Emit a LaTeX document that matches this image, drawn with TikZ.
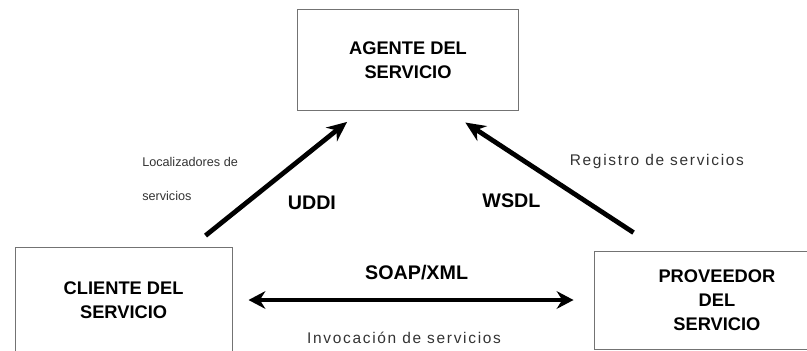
\documentclass[tikz,border=0pt]{standalone}
\usepackage{fontspec}
\setmainfont{Liberation Sans}
\usetikzlibrary{positioning, calc, arrows.meta}

\begin{document}
\begin{tikzpicture}[
		role/.style={draw=black!55, line width=0.6pt, align=center, font=\bfseries\fontsize{13}{17}\selectfont},
		wire/.style={line width=3.4pt, -{Stealth[length=5mm, width=4.4mm]}},
		proto/.style={font=\bfseries\fontsize{14}{16}\selectfont, inner sep=0pt},
		note/.style={font=\fontsize{9}{24}\selectfont, text=black!80, inner sep=0pt, align=left},
		wide/.style={font=\fontsize{11}{13}\selectfont\addfontfeature{LetterSpace=11}, text=black!80, inner sep=0pt},
	]
	\useasboundingbox (0,0) rectangle (20.175,-8.775);

	% the three roles
	\node[role, minimum width=5.525cm, minimum height=2.525cm] (agente) at (10.2,-1.5) {AGENTE DEL\\SERVICIO};
	\node[role, minimum width=5.425cm, minimum height=2.65cm] (cliente) at (3.09,-7.5) {CLIENTE DEL\\SERVICIO};
	\node[role, minimum width=6.15cm, minimum height=2.45cm, right=9.025cm of cliente] (proveedor) {PROVEEDOR\\DEL\\SERVICIO};

	% client looks the service up
	\draw[wire] ($(cliente.north east)+(-0.675,0.275)$) -- ($(agente.south west)+(1.25,-0.275)$)
		node[midway, proto, xshift=0.89cm, yshift=-0.61cm] {UDDI}
		node[midway, note, left=0.9cm] {Localizadores de\\servicios};

	% provider publishes its description
	\draw[wire] ($(proveedor.north west)+(1.0,0.45)$) -- ($(agente.south east)+(-1.34,-0.29)$)
		node[midway, proto, xshift=-0.95cm, yshift=-0.59cm] {WSDL}
		node[midway, wide, right=0.45cm, yshift=0.41cm] {Registro de servicios};

	% messages between client and provider
	\draw[wire, line width=3pt, {Stealth[length=4.2mm, width=4.4mm]}-{Stealth[length=4.2mm, width=4.4mm]}]
		([xshift=0.4cm]cliente.east) -- ([xshift=-0.5cm]proveedor.west)
		node[midway, proto, xshift=0.14cm, yshift=0.675cm] {SOAP/XML}
		node[midway, wide, xshift=-0.175cm, yshift=-0.95cm] {Invocación de servicios};
\end{tikzpicture}
\end{document}
